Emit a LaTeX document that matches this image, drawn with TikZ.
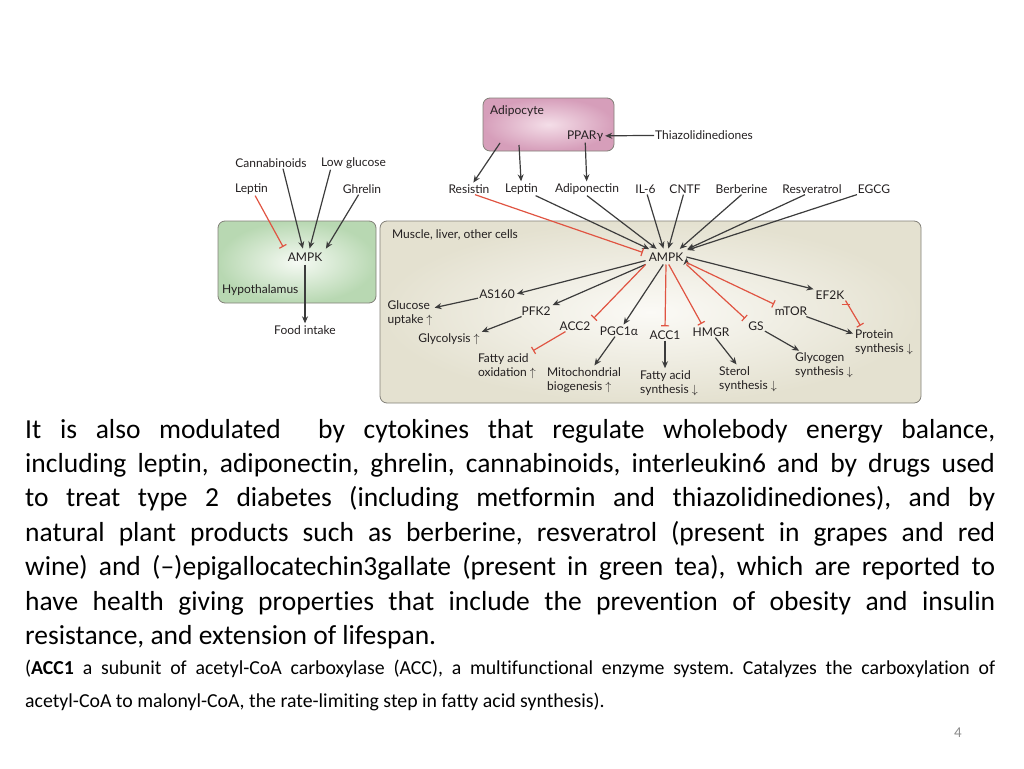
\documentclass[tikz,border=0pt]{standalone}
\usepackage{fontspec}
\setmainfont{Carlito}[Ligatures=NoCommon]
\newfontfamily\diagfont{Lato}
\usepackage{tikz}
\usetikzlibrary{arrows.meta}
\frenchspacing

\begin{document}
\begin{tikzpicture}[x=1pt,y=-1pt,>={Stealth[length=7pt,width=6pt]},shorten >=1pt,
	cell/.style={draw=boxedge,rounded corners=7pt,line width=0.8pt,shading=radial},
	lbl/.style={font=\diagfont\fontsize{12}{14}\selectfont,text=ink,inner sep=1pt,align=left},
	hub/.style={lbl,inner sep=3pt},
	act/.style={->,draw=dark,line width=1.2pt},
	inh/.style={-{Bar[width=8pt,line width=1.2pt]},draw=inhred,line width=1.2pt,shorten >=3pt}]

	\definecolor{ink}{RGB}{35,31,32}
	\definecolor{dark}{RGB}{60,60,60}
	\definecolor{inhred}{RGB}{224,84,66}
	\definecolor{boxedge}{RGB}{130,128,120}
	\definecolor{pinkin}{RGB}{244,222,232}
	\definecolor{pinkout}{RGB}{214,158,186}
	\definecolor{greenin}{RGB}{246,250,244}
	\definecolor{greenout}{RGB}{184,216,178}
	\definecolor{beigein}{RGB}{251,250,246}
	\definecolor{beigeout}{RGB}{228,225,208}
	\definecolor{pagegray}{RGB}{140,140,140}

	\useasboundingbox (0,0) rectangle (1024,768);

	% boxes
	\node[cell,inner color=pinkin,outer color=pinkout,minimum width=131pt,minimum height=53pt] (adipo) at (548.5,124.5) {};
	\node[cell,inner color=greenin,outer color=greenout,minimum width=158pt,minimum height=82pt] (hypo) at (297,262) {};
	\node[cell,inner color=beigein,outer color=beigeout,minimum width=541pt,minimum height=182pt] (muscle) at (650.5,312) {};

	\node[lbl,anchor=west] (adiL) at (489,111) {Adipocyte};
	\node[lbl] (ppar) at (585,136) {PPARγ};
	\node[lbl,anchor=west] (thz) at (654,135) {Thiazolidinediones};
	\node[lbl,anchor=west] (hypL) at (221,290) {Hypothalamus};
	\node[lbl,anchor=west] (musL) at (391,235) {Muscle, liver, other cells};

	\coordinate (adiR) at (500,143);
	\coordinate (adiE) at (519,145);

	% hypothalamus side
	\node[lbl] (cann) at (271,163) {Cannabinoids};
	\node[lbl] (lowglc) at (353.5,163) {Low glucose};
	\node[lbl] (leptH) at (251.5,189) {Leptin};
	\node[lbl] (ghrel) at (362,189) {Ghrelin};
	\node[hub] (ampkH) at (305,257) {AMPK};
	\node[lbl] (food) at (305,330) {Food intake};

	% signals to muscle AMPK
	\node[lbl] (resis) at (469,189) {Resistin};
	\node[lbl] (leptM) at (521.5,189) {Leptin};
	\node[lbl] (adipon) at (587,189) {Adiponectin};
	\node[lbl] (il6) at (645.5,189) {IL-6};
	\node[lbl] (cntf) at (685,189) {CNTF};
	\node[lbl] (berb) at (741.5,189) {Berberine};
	\node[lbl] (resv) at (812,189) {Resveratrol};
	\node[lbl] (egcg) at (874,189) {EGCG};
	\node[hub] (ampkM) at (666,257) {AMPK};

	% targets
	\node[lbl] (as160) at (497,294) {AS160};
	\node[lbl] (glcup) at (410,313) {Glucose\\uptake $\uparrow$};
	\node[lbl] (pfk2) at (536,311) {PFK2};
	\node[lbl] (glyco) at (449,339) {Glycolysis $\uparrow$};
	\node[lbl] (acc2) at (575,326) {ACC2};
	\node[lbl] (faox) at (507,366) {Fatty acid\\oxidation $\uparrow$};
	\node[lbl] (pgc) at (619,331) {PGC1α};
	\node[lbl] (mito) at (584,380) {Mitochondrial\\biogenesis $\uparrow$};
	\node[lbl] (acc1) at (665,335) {ACC1};
	\node[lbl] (fasyn) at (669,383) {Fatty acid\\synthesis $\downarrow$};
	\node[lbl] (hmgr) at (711,332) {HMGR};
	\node[lbl] (sterol) at (748,379) {Sterol\\synthesis $\downarrow$};
	\node[lbl] (gs) at (756,326) {GS};
	\node[lbl] (glycog) at (824,365) {Glycogen\\synthesis $\downarrow$};
	\node[lbl] (mtor) at (791,311) {mTOR};
	\node[lbl] (ef2k) at (830,295) {EF2K};
	\node[lbl] (prot) at (884,342) {Protein\\synthesis $\downarrow$};

	\path[act]
	(thz) edge (ppar)
	(adiR) edge (resis)
	(adiE) edge (leptM)
	(ppar) edge (adipon)
	([xshift=12pt]cann.south) edge (ampkH)
	([xshift=-23pt]lowglc.south) edge (ampkH.60)
	(ghrel) edge (ampkH.north east)
	(ampkH) edge (food)
	(leptM) edge (ampkM)
	(adipon.south) edge (ampkM.139)
	(il6) edge (ampkM)
	(cntf) edge (ampkM)
	(berb.south) edge (ampkM.30)
	([xshift=-7pt]resv.south) edge (ampkM.20)
	(egcg) edge (ampkM)
	(ampkM.190) edge (as160.east)
	(as160) edge (glcup)
	(ampkM.200) edge (pfk2.north east)
	(pfk2) edge (glyco.north east)
	(ampkM.250) edge ([xshift=4pt]pgc.north)
	(pgc) edge (mito)
	(acc1.south) edge (acc1.south |- fasyn.north)
	(hmgr) edge (sterol)
	(gs) edge (glycog)
	(mtor) edge (prot.165)
	(ampkM.east) edge (ef2k.north west);

	\path[inh]
	(leptH) edge (ampkH.north west)
	([xshift=6pt]resis.south) edge (ampkM.170)
	(ampkM.south west) edge (acc2.north east)
	(acc2) edge (faox)
	(ampkM.south) edge (acc1.north)
	(ampkM.290) edge ([xshift=-8pt]hmgr.north)
	(ampkM.south east) edge (gs.north west)
	(ampkM.345) edge ([xshift=3pt]mtor.north west)
	(ef2k.south east) edge ([xshift=8pt]prot.north west);

	% slide text
	\node[anchor=base west,inner sep=0pt,font=\fontsize{27.5}{34.4}\selectfont] (para) at (25,438) {\parbox[t]{970pt}{%
	\makebox[\linewidth][s]{It is also modulated\ \ by cytokines that regulate wholebody energy balance,}\\
	\makebox[\linewidth][s]{including leptin, adiponectin, ghrelin, cannabinoids, interleukin6 and by drugs used}\\
	\makebox[\linewidth][s]{to treat type 2 diabetes (including metformin and thiazolidinediones), and by}\\
	\makebox[\linewidth][s]{natural plant products such as berberine, resveratrol (present in grapes and red}\\
	\makebox[\linewidth][s]{wine) and (–)epigallocatechin3gallate (present in green tea), which are reported to}\\
	\makebox[\linewidth][s]{have health giving properties that include the prevention of obesity and insulin}\\
	resistance, and extension of lifespan.}};
	\node[anchor=base west,inner sep=0pt,font=\fontsize{19.8}{33}\selectfont] (note) at (25,674) {\parbox[t]{970pt}{%
	\makebox[\linewidth][s]{(\textbf{ACC1} a subunit of acetyl-CoA carboxylase (ACC), a multifunctional enzyme system. Catalyzes the carboxylation of}\\
	acetyl-CoA to malonyl-CoA, the rate-limiting step in fatty acid synthesis).}};
	\node[font=\fontsize{15}{18}\selectfont,text=pagegray] (pnum) at (958,733) {4};
\end{tikzpicture}
\end{document}
